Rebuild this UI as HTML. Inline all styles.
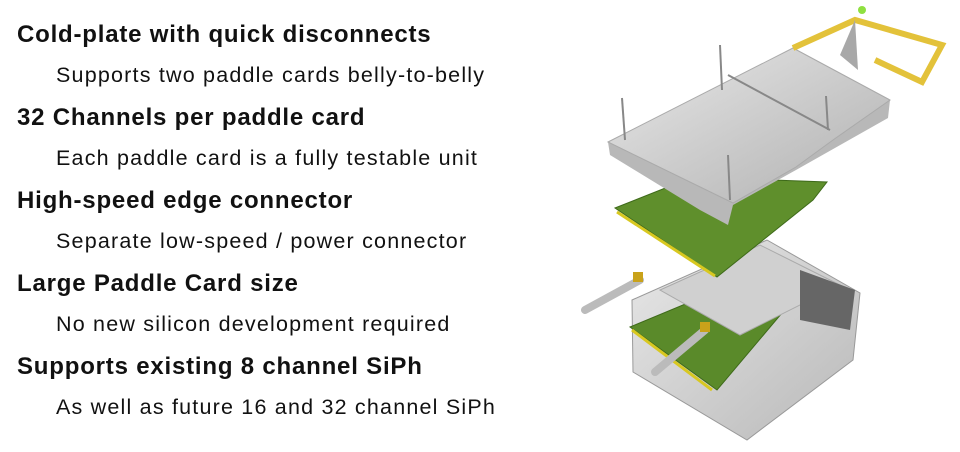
<!DOCTYPE html>
<html><head><style>
body{margin:0;width:960px;height:452px;background:#fff;overflow:hidden;position:relative;font-family:"Liberation Sans",Arial,sans-serif;color:#111}
.h{position:absolute;left:17px;font-weight:bold;font-size:24px;letter-spacing:0.8px;white-space:nowrap}
.s{position:absolute;left:56px;font-size:21.5px;letter-spacing:1.2px;white-space:nowrap}
svg{position:absolute;left:0;top:0}
</style></head><body>
<div class="h" style="top:21px">Cold-plate with quick disconnects</div>
<div class="s" style="top:63px">Supports two paddle cards belly-to-belly</div>
<div class="h" style="top:104px">32 Channels per paddle card</div>
<div class="s" style="top:146px">Each paddle card is a fully testable unit</div>
<div class="h" style="top:187px">High-speed edge connector</div>
<div class="s" style="top:229px">Separate low-speed / power connector</div>
<div class="h" style="top:270px">Large Paddle Card size</div>
<div class="s" style="top:312px">No new silicon development required</div>
<div class="h" style="top:353px">Supports existing 8 channel SiPh</div>
<div class="s" style="top:395px">As well as future 16 and 32 channel SiPh</div>
<svg width="960" height="452">
<defs>
<linearGradient id="m" x1="0" y1="0" x2="1" y2="1"><stop offset="0" stop-color="#e8e8e8"/><stop offset="1" stop-color="#b0b0b0"/></linearGradient>
<linearGradient id="m2" x1="0" y1="0" x2="1" y2="1"><stop offset="0" stop-color="#e8e8e8"/><stop offset="1" stop-color="#b8b8b8"/></linearGradient>
</defs>
<polygon points="632,300 767,240 860,293 853,360 747,440 633,372" fill="url(#m2)" stroke="#999"/>
<polygon points="630,327 743,280 793,300 717,390" fill="#5a8a2a" stroke="#3e6a1a"/>
<line x1="632" y1="330" x2="712" y2="390" stroke="#d8c820" stroke-width="3"/>
<polygon points="660,290 760,245 840,285 740,335" fill="#d0d0d0" stroke="#aaa"/>
<polygon points="800,270 855,290 850,330 800,320" fill="#666"/>
<line x1="585" y1="310" x2="640" y2="280" stroke="#bbb" stroke-width="8" stroke-linecap="round"/>
<line x1="655" y1="372" x2="705" y2="330" stroke="#bbb" stroke-width="8" stroke-linecap="round"/>
<rect x="633" y="272" width="10" height="10" fill="#c9a21a"/>
<rect x="700" y="322" width="10" height="10" fill="#c9a21a"/>
<polygon points="615,208 693,177 827,182 813,200 717,277" fill="#5f8f2c" stroke="#3e6a1a"/>
<line x1="617" y1="212" x2="715" y2="276" stroke="#d8c820" stroke-width="3"/>
<polygon points="608,142 793,48 890,100 888,118 796,170 733,205 728,225 700,210 610,155" fill="#b8b8b8"/>
<polygon points="608,142 793,48 890,100 833,140 796,167 733,203" fill="url(#m)" stroke="#aaa"/>
<line x1="728" y1="75" x2="830" y2="130" stroke="#888" stroke-width="2"/>
<polyline points="793,48 855,20 942,45 922,82 875,60" fill="none" stroke="#e3c23a" stroke-width="6"/>
<polygon points="855,20 858,70 840,55" fill="#a8a8a8"/>
<circle cx="862" cy="10" r="4" fill="#8fe040"/>
<g stroke="#888" stroke-width="2">
<line x1="622" y1="98" x2="625" y2="140"/><line x1="720" y1="45" x2="722" y2="90"/>
<line x1="826" y1="96" x2="828" y2="130"/><line x1="728" y1="155" x2="730" y2="200"/>
</g>
</svg>
</body></html>
